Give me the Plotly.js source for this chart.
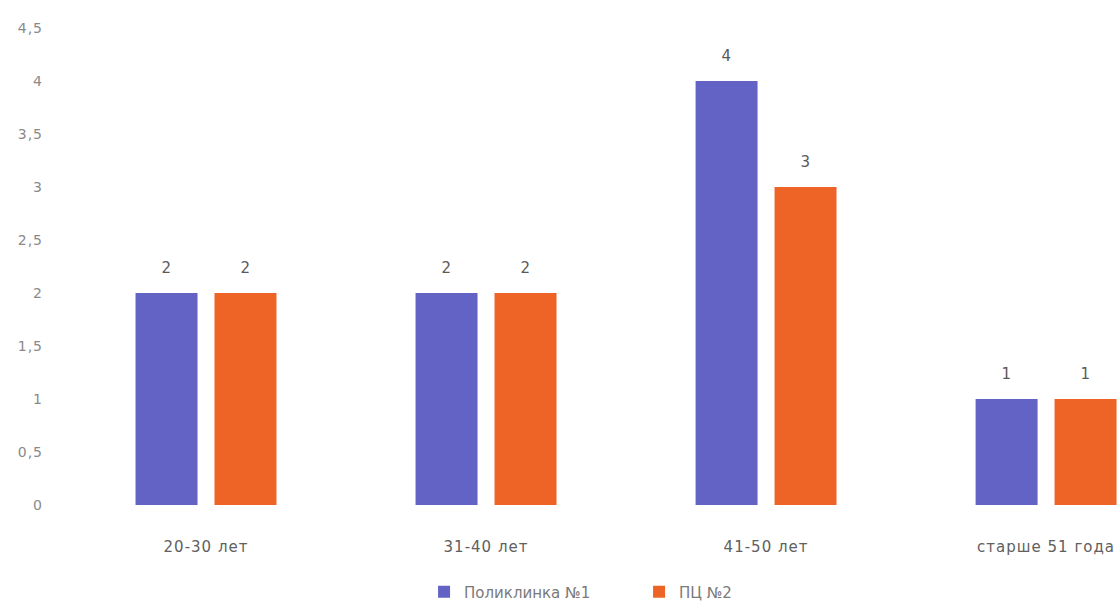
<!DOCTYPE html>
<html>
<head>
<meta charset="utf-8">
<script src="https://cdn.plot.ly/plotly-3.0.1.min.js"></script>
<style>
  html, body { margin: 0; padding: 0; background: #ffffff; }
  #chart { width: 1120px; height: 604px; }
  #chart .xtick text, #chart .ytick text, #chart .annotation-text { letter-spacing: 1px; }
</style>
</head>
<body>
<div id="chart"></div>
<script>
// Age groups and counts per clinic
const categories = ["20-30 лет", "31-40 лет", "41-50 лет", "старше 51 года"];
const seriesNames = ["Поликлинка №1", "ПЦ №2"];
const clinic1 = [2, 2, 4, 1];
const clinic2 = [2, 2, 3, 1];
const yTicks = [0, 0.5, 1, 1.5, 2, 2.5, 3, 3.5, 4, 4.5];

const colors = ["#6363c6", "#ee6427"];
const seriesValues = [clinic1, clinic2];

const traces = seriesValues.map((vals, i) => ({
  type: "bar",
  name: seriesNames[i],
  x: categories,
  y: vals,
  marker: { color: colors[i] },
  hoverinfo: "x+y+name"
}));

// Value labels placed above each bar, offset to the bar's slot in the group
const slotShift = 39.5;
const annotations = [];
seriesValues.forEach((vals, i) => {
  vals.forEach((v, j) => {
    annotations.push({
      x: categories[j], y: v, xref: "x", yref: "y",
      text: String(v), showarrow: false,
      xshift: (i === 0 ? -slotShift : slotShift),
      yshift: 25, yanchor: "middle",
      font: { size: 15, color: "#5a5a5a" }
    });
  });
});

const layout = {
  width: 1120,
  height: 604,
  margin: { l: 66, r: 0, t: 28, b: 99 },
  paper_bgcolor: "#ffffff",
  plot_bgcolor: "#ffffff",
  font: { family: "DejaVu Sans, Open Sans, sans-serif", color: "#666666" },
  separators: ", ",
  barmode: "group",
  bargap: 0.436,
  bargroupgap: 0.215,
  showlegend: true,
  legend: {
    orientation: "h",
    xref: "paper", x: 0.5437, xanchor: "center",
    yref: "container", y: 0.02, yanchor: "middle",
    font: { size: 15, color: "#7a7a7a" },
    entrywidth: 170,
    itemwidth: 30,
    traceorder: "normal"
  },
  xaxis: {
    type: "category",
    range: [-0.5, 3.264],
    showgrid: false, zeroline: false, showline: false,
    ticks: "",
    ticklabelstandoff: 31,
    tickfont: { size: 15, color: "#606060" }
  },
  yaxis: {
    range: [0, 4.5],
    tickvals: yTicks,
    ticktext: yTicks.map(v => String(v).replace(".", ",")),
    showgrid: false, zeroline: false, showline: false,
    ticks: "",
    ticklabelstandoff: 22,
    tickfont: { size: 14, color: "#8a8a8a" }
  },
  annotations: annotations
};

Plotly.newPlot("chart", traces, layout, { displayModeBar: false, staticPlot: true });
</script>
</body>
</html>
